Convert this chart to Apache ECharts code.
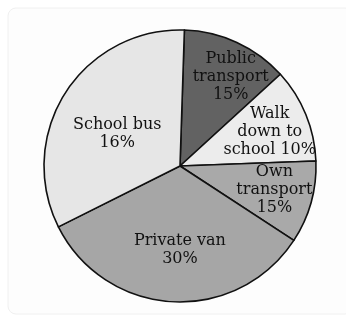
<!DOCTYPE html>
<html>
<head>
<meta charset="utf-8">
<style>
  html, body { margin: 0; padding: 0; background: #fff; }
  #chart { width: 346px; height: 318px; }
</style>
<script src="https://cdn.jsdelivr.net/npm/echarts@6/dist/echarts.min.js"></script>
</head>
<body>
<div id="chart"></div>
<script>
// slice names (clockwise from the top)
var names = ['Public\ntransport', 'Walk\ndown to\nschool', 'Own\ntransport', 'Private van', 'School bus'];
// printed percentages
var printed = ['15%', '10%', '15%', '30%', '16%'];
var drawn = [12.7, 11.2, 9.8, 33.4, 32.9];
var colors = ['#626262', '#ececec', '#a9a9a9', '#a6a6a6', '#e6e6e6'];

// nudges of each label from the default inside spot
var labelShift = [[21, -25], [24, -7], [26, 5], [4, 13], [-3, 6]];

var dom = document.getElementById('chart');
var myChart = echarts.init(dom);

var pieData = names.map(function (n, i) {
    var txt = n + (i === 1 ? ' ' : '\n') + printed[i];
    return {
        name: n,
        value: drawn[i],
        itemStyle: { color: colors[i] },
        label: { formatter: txt }
    };
});

option = {
    animation: false,
    backgroundColor: '#fff',
    graphic: [{
        type: 'rect',
        shape: { x: 8, y: 8, width: 345, height: 306, r: 8 },
        style: { fill: '#fdfdfd', stroke: '#f0f0f0', lineWidth: 1 },
        z: -10
    }],
    series: [{
        type: 'pie',
        center: [180, 166],
        radius: [0, 136],
        startAngle: 88.15,
        clockwise: true,
        avoidLabelOverlap: false,
        itemStyle: {
            borderColor: '#111',
            borderWidth: 1.6
        },
        label: {
            show: true,
            position: 'inside',
            color: '#111',
            fontFamily: 'DejaVu Serif',
            fontSize: 16,
            lineHeight: 18,
            align: 'center'
        },
        labelLine: { show: false },
        labelLayout: function (p) {
            var s = labelShift[p.dataIndex];
            return { dx: s[0], dy: s[1] };
        },
        emphasis: { disabled: true },
        data: pieData
    }]
};

if (option && typeof option === 'object') {
    myChart.setOption(option, true);
}
</script>
</body>
</html>
